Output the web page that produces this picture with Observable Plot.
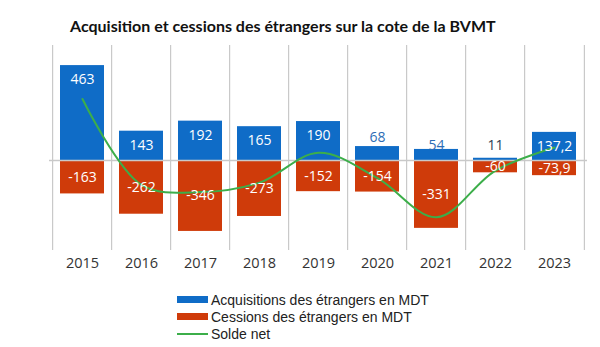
<!DOCTYPE html>
<html>
<head>
<meta charset="utf-8">
<script src="https://cdn.jsdelivr.net/npm/d3@7"></script>
<script src="https://cdn.jsdelivr.net/npm/@observablehq/plot@0.6"></script>
<style>
  html, body { margin: 0; padding: 0; background: #fff; }
  body { width: 600px; height: 347px; position: relative; overflow: hidden; font-family: "Open Sans", sans-serif; }
  #title { position: absolute; left: 70px; top: 16px; font-family: Lato, sans-serif; font-weight: 700; font-size: 16px; line-height: 20px; color: #111; letter-spacing: 0; white-space: nowrap; }
  #chart { position: absolute; left: 0; top: 45px; }
  #legend { position: absolute; left: 177px; top: 291px; font-family: "Liberation Sans", Arial, sans-serif; font-size: 14px; color: #222; }
  .row { display: flex; align-items: center; height: 17px; line-height: 16px; }
  .sw { width: 31px; margin-right: 3px; flex: none; }
</style>
</head>
<body>
<div id="title">Acquisition et cessions des étrangers sur la cote de la BVMT</div>
<div id="chart"></div>
<div id="legend">
  <div class="row"><div class="sw" style="height:7px;background:#0f6cc7"></div><span>Acquisitions des étrangers en MDT</span></div>
  <div class="row"><div class="sw" style="height:7px;background:#cf3b0a"></div><span>Cessions des étrangers en MDT</span></div>
  <div class="row"><div class="sw" style="height:2px;background:#3cae4a"></div><span>Solde net</span></div>
</div>
<script>
const years = ["2015","2016","2017","2018","2019","2020","2021","2022","2023"];
const acquisitions = [463, 143, 192, 165, 190, 68, 54, 11, 137.2];
const cessions = [-163, -262, -346, -273, -152, -154, -331, -60, -73.9];
const soldeNet = [300, -119, -154, -108, 38, -86, -277, -49, 63.3];

const fmt = v => String(v).replace(".", ",");
const acq = years.map((y, i) => ({year: y, value: acquisitions[i]}));
const ces = years.map((y, i) => ({year: y, value: cessions[i]}));
const net = years.map((y, i) => ({year: y, value: soldeNet[i]}));

const BLUE = "#0f6cc7", RED = "#cf3b0a", GREEN = "#3cae4a";

const chart = Plot.plot({
  width: 600,
  height: 235,
  marginLeft: 49,
  marginRight: 13,
  marginTop: 0,
  marginBottom: 30,
  style: {fontFamily: "Open Sans, sans-serif", fontSize: "14px", color: "#333", background: "white"},
  x: {domain: years, paddingInner: 0.247, paddingOuter: 0.1235, label: null},
  y: {domain: [-439, 561], axis: null},
  marks: [
    Plot.barY(acq, {x: "year", y: "value", fill: BLUE}),
    Plot.barY(ces, {x: "year", y: "value", fill: RED}),
    Plot.ruleY([0], {stroke: "#c9c9c9", strokeWidth: 1.5}),
    Plot.tickX(years, {x: d => d, y1: 0, y2: -20, dx: -29.9, stroke: "#c9c9c9", strokeWidth: 1.2}),
    Plot.tickX(["2023"], {x: d => d, y1: 0, y2: -20, dx: 29.9, stroke: "#c9c9c9", strokeWidth: 1.2}),
    Plot.line(net, {x: "year", y: "value", stroke: GREEN, strokeWidth: 2, curve: "catmull-rom"}),
    Plot.text(acq.filter(d => d.value >= 100), {x: "year", y: "value", text: d => fmt(d.value), fill: "white", dy: 14, fontSize: 14, letterSpacing: "0.5px"}),
    Plot.text(acq.filter(d => d.value >= 60 && d.value < 100), {x: "year", y: "value", text: d => fmt(d.value), fill: "#2d6db5", dy: -9, fontSize: 14, letterSpacing: "0.5px"}),
    Plot.text(acq.filter(d => d.value >= 20 && d.value < 60), {x: "year", y: "value", text: d => fmt(d.value), fill: "#2d6db5", dy: -4, fontSize: 14, letterSpacing: "0.5px"}),
    Plot.text(acq.filter(d => d.value < 20), {x: "year", y: "value", text: d => fmt(d.value), fill: "#2c3e55", dy: -13, fontSize: 14, letterSpacing: "0.5px"}),
    Plot.text(ces, {x: "year", y: d => d.value / 2, text: d => fmt(d.value), fill: "white", fontSize: 14, letterSpacing: "0.5px"}),
    Plot.axisX({tickSize: 0, tickPadding: 7, fontSize: 14.5, fill: "#333"})
  ]
});
document.getElementById("chart").appendChild(chart);
</script>
</body>
</html>
